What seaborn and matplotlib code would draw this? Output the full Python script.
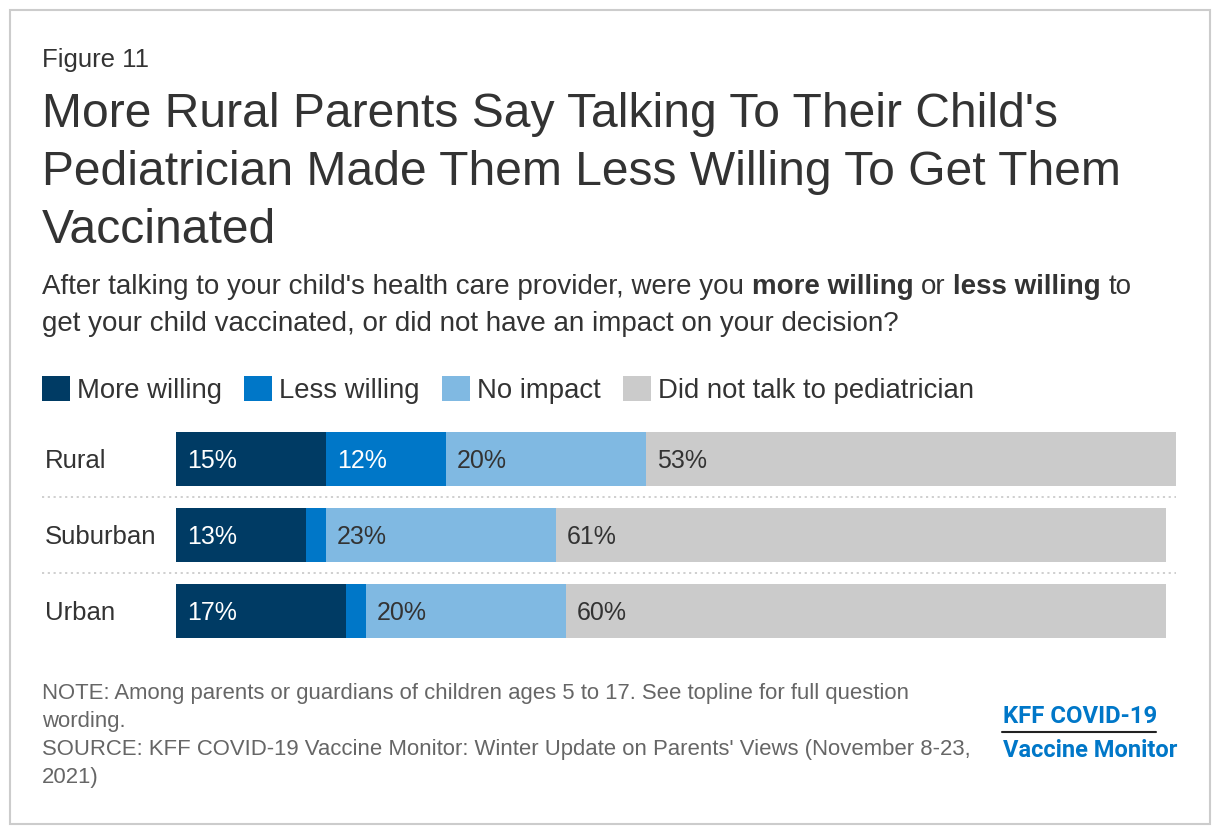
import numpy as np
import pandas as pd
import matplotlib.pyplot as plt
import seaborn as sns
from matplotlib.patches import Patch, Rectangle
from matplotlib.lines import Line2D
from matplotlib import transforms

# --- data ---
groups = ['Rural', 'Suburban', 'Urban']
series = ['More willing', 'Less willing', 'No impact', 'Did not talk to pediatrician']
more_willing = [15, 13, 17]
less_willing = [12, 2, 2]
no_impact = [20, 23, 20]
did_not_talk = [53, 61, 60]
colors = ['#003B64', '#0077C8', '#80B9E2', '#CBCBCB']
label_colors = ['white', 'white', '#333333', '#333333']

title_lines = ["More Rural Parents Say Talking To Their Child's",
               "Pediatrician Made Them Less Willing To Get Them",
               "Vaccinated"]
note_lines = ["NOTE: Among parents or guardians of children ages 5 to 17. See topline for full question",
              "wording.",
              "SOURCE: KFF COVID-19 Vaccine Monitor: Winter Update on Parents' Views (November 8-23,",
              "2021)"]

df = pd.DataFrame({series[0]: more_willing, series[1]: less_willing,
                   series[2]: no_impact, series[3]: did_not_talk}, index=groups)
cum = df.cumsum(axis=1)

sns.set_theme(style='white')
plt.rcParams['font.family'] = ['Liberation Sans', 'DejaVu Sans']

W, H = 1220, 834
fx = lambda px: px / W
fy = lambda py: 1 - py / H

fig = plt.figure(figsize=(12.2, 8.34), dpi=100)
fig.patch.set_facecolor('white')

# bars: draw cumulative totals from the back so each segment shows
ax = fig.add_axes([fx(176), fy(649), 1000 / W, 228 / H])
for i in range(len(series) - 1, -1, -1):
    sns.barplot(x=cum[series[i]].values, y=groups, color=colors[i], orient='h',
                width=0.71, saturation=1, errorbar=None, linewidth=0,
                edgecolor='none', ax=ax)
ax.set_xlim(0, 100)
ax.set_ylim(2.5, -0.5)
ax.axis('off')

for j, g in enumerate(groups):
    left = 0
    for i, s in enumerate(series):
        v = df.loc[g, s]
        if v >= 5:
            ax.text(left + 1.1, j + 0.025, f'{v}%', va='center', ha='left',
                    color=label_colors[i], fontsize=18)
        left += v

for y in [0.5, 1.5]:
    ax.axhline(y, xmin=-0.134, xmax=1.0, color='#cccccc', lw=1.3,
               ls=(0, (1.2, 2)), clip_on=False)

trans = transforms.blended_transform_factory(fig.transFigure, ax.transData)
for j, g in enumerate(groups):
    ax.text(fx(45), j + 0.025, g, transform=trans, va='center', ha='left',
            fontsize=18.5, color='#333333')

# legend
handles = [Patch(facecolor=c, edgecolor='none') for c in colors]
leg = fig.legend(handles, series, loc='upper left', bbox_to_anchor=(fx(42), fy(376)),
                 ncol=4, frameon=False, fontsize=19.8, handlelength=1.02, handleheight=1.0,
                 handletextpad=0.26, columnspacing=0.8, borderpad=0, borderaxespad=0)
for t in leg.get_texts():
    t.set_color('#333333')

# header text
fig.text(fx(42), fy(67), 'Figure 11', fontsize=18.5, color='#333333', va='baseline')
for k, line in enumerate(title_lines):
    fig.text(fx(42), fy(127 + 58 * k), line, fontsize=34.6, color='#333333', va='baseline')

renderer = fig.canvas.get_renderer()


def text_width(s, **kw):
    t = fig.text(0, 0, s, **kw)
    w = t.get_window_extent(renderer=renderer).width
    t.remove()
    return w


sub_kw = dict(fontsize=20, color='#333333', va='baseline')
space = text_width('a a', **sub_kw) - text_width('aa', **sub_kw)
parts = [("After talking to your child's health care provider, were you", 'normal'),
         ('more willing', 'bold'), ('or', 'normal'), ('less willing', 'bold'), ('to', 'normal')]
x = 42
for txt, wt in parts:
    t = fig.text(fx(x), fy(294), txt, fontweight=wt, **sub_kw)
    x += t.get_window_extent(renderer=renderer).width + space
fig.text(fx(42), fy(331), "get your child vaccinated, or did not have an impact on your decision?", **sub_kw)

# notes
for k, line in enumerate(note_lines):
    fig.text(fx(42), fy(699 + 28 * k), line, fontsize=15.9, color='#666666', va='baseline')

# logo
fig.text(fx(1003), fy(723), 'KFF COVID-19', fontsize=17.2, fontweight='bold',
         color='#0077C8', family='Roboto', va='baseline')
fig.add_artist(Line2D([fx(1002), fx(1156)], [fy(732), fy(732)], transform=fig.transFigure,
                      color='#222222', lw=1.5))
fig.text(fx(1003), fy(757), 'Vaccine Monitor', fontsize=17, fontweight='bold',
         color='#0077C8', family='Roboto', va='baseline')

# frame
fig.add_artist(Rectangle((fx(10), fy(824)), 1200 / W, 814 / H, transform=fig.transFigure,
                         fill=False, ec='#cccccc', lw=1.5))

fig.savefig('out.png', dpi=100, facecolor='white')
